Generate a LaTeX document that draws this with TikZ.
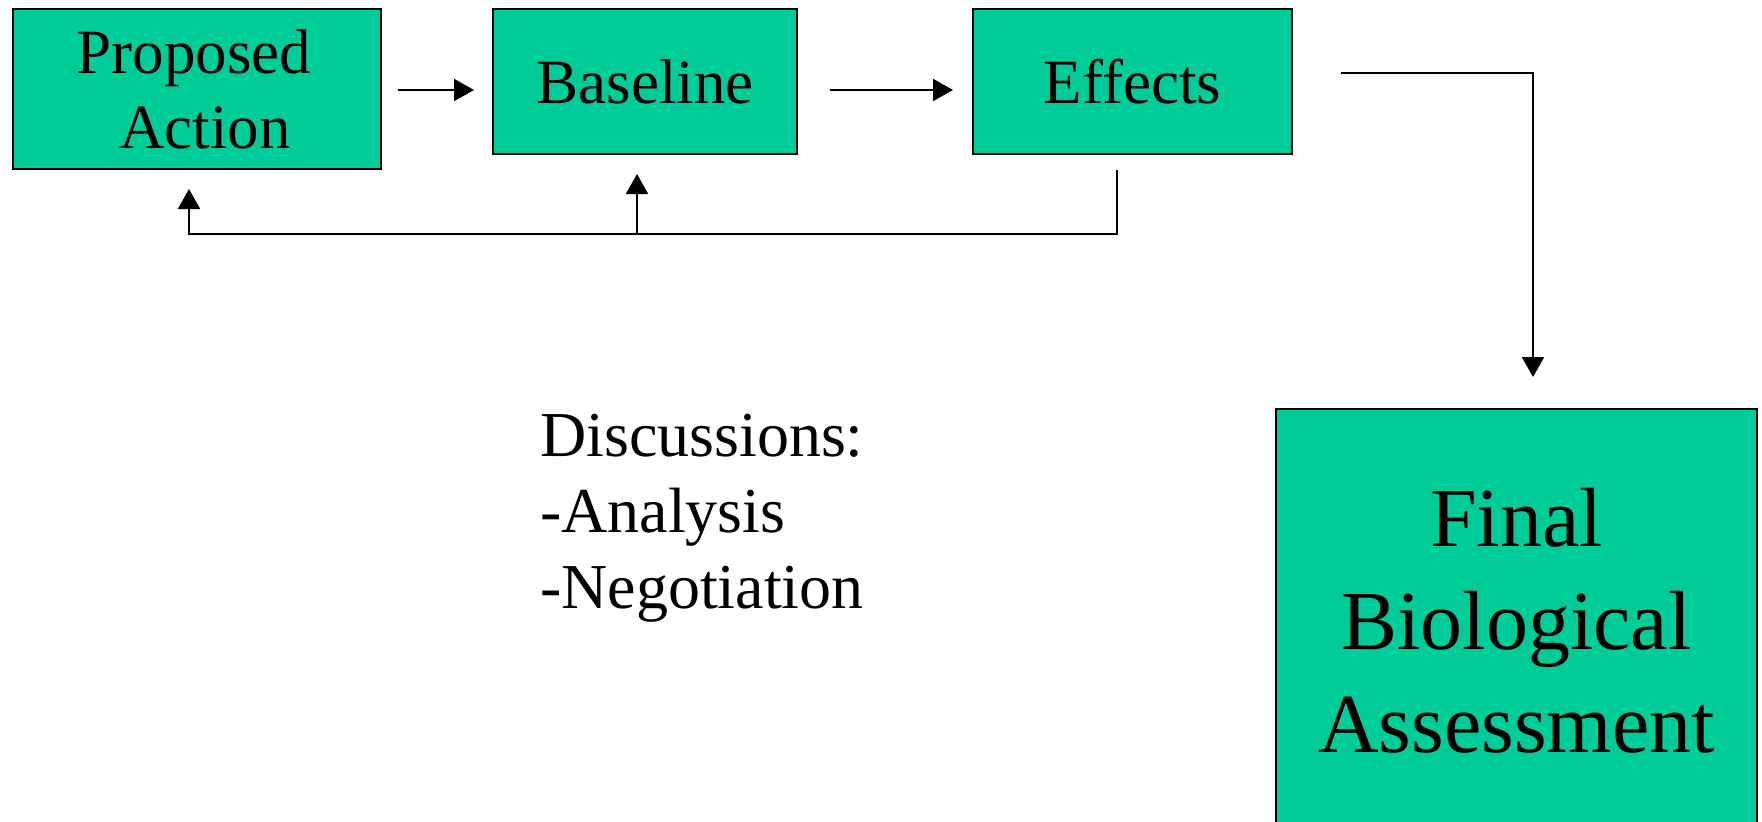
\documentclass[tikz,border=0pt]{standalone}
\usepackage{fontspec}
\setmainfont{Liberation Serif}
\usetikzlibrary{arrows.meta,calc}
\definecolor{boxgreen}{RGB}{0,204,153}
\begin{document}
\begin{tikzpicture}[x=1pt,y=-1pt,
  box/.style={draw=black,line width=2pt,fill=boxgreen,inner sep=0pt,align=center,anchor=north west},
  midfont/.style={font=\fontsize{63}{75}\selectfont},
  bigfont/.style={font=\fontsize{84}{103}\selectfont},
  conn/.style={line width=2pt},
  arr/.style={conn,-{Triangle[length=20pt,width=22pt]}}]
\useasboundingbox (0,0) rectangle (1762,822);
\clip (0,0) rectangle (1762,822);
\fill[white] (0,0) rectangle (1762,822);
\node[box,midfont,minimum width=368pt,minimum height=160pt] (pa) at (12,8) {\hspace*{-6pt}Proposed\\\hspace*{16pt}Action};
\node[box,midfont,minimum width=304pt,minimum height=145pt] (bl) at (492,8) {Baseline};
\node[box,midfont,minimum width=319pt,minimum height=145pt] (ef) at (972,8) {Effects};
\node[box,bigfont,minimum width=481pt,minimum height=424pt] (fin) at (1275,408) {Final\\Biological\\Assessment};
\node[inner sep=0pt,align=left,anchor=north west,font=\fontsize{64}{76}\selectfont] (disc) at (540,414) {Discussions:\\-Analysis\\-Negotiation};
\draw[arr] ($(pa.east)+(16,1)$) -- ($(bl.west|-pa.east)+(-18,1)$);
\draw[arr] ($(bl.east)+(32,8.5)$) -- ($(ef.west)+(-19,8.5)$);
\draw[arr] ($(ef.east)+(48,-8.5)$) -| ($(fin.north)+(16.5,-31)$);
\draw[arr] ($(ef.south)+(-15.5,15)$) |- ($(pa.south)+(-8,64)$) -- ($(pa.south)+(-8,19)$);
\draw[arr] ($(bl.south)+(-8,79)$) -- ($(bl.south)+(-8,19)$);
\end{tikzpicture}
\end{document}
